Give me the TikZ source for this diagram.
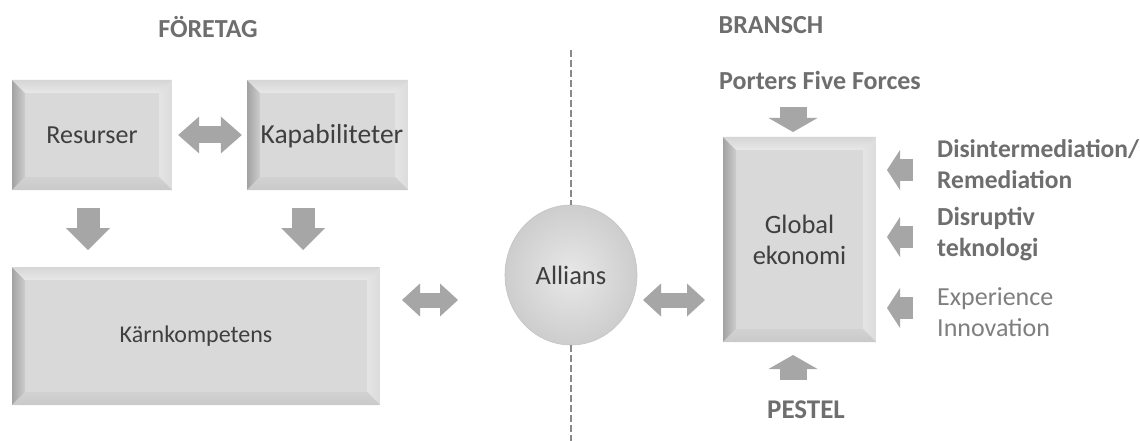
\documentclass[tikz,border=0pt]{standalone}
\usepackage{fontspec}
\setmainfont{Carlito}
\usetikzlibrary{arrows.meta,shapes.geometric}

\definecolor{boxfill}{HTML}{D9D9D9}
\definecolor{boxtext}{HTML}{3F3F3F}
\definecolor{hdrtext}{HTML}{6E6E6E}
\definecolor{softtext}{HTML}{7F7F7F}
\definecolor{arrowgray}{HTML}{A6A6A6}
\definecolor{dashgray}{HTML}{8A8A8A}
\definecolor{bevLa}{HTML}{A2A2A2}
\definecolor{bevLb}{HTML}{CDCDCD}
\definecolor{bevTa}{HTML}{D6D6D6}
\definecolor{bevTb}{HTML}{E8E8E8}
\definecolor{bevRa}{HTML}{E4E4E4}
\definecolor{bevRb}{HTML}{DCDCDC}
\definecolor{bevBa}{HTML}{D2D2D2}
\definecolor{bevBb}{HTML}{C9C9C9}
\definecolor{ballin}{HTML}{E8E8E8}
\definecolor{ballout}{HTML}{CDCDCD}
\definecolor{ballrim}{HTML}{C4C4C4}

\newcommand\lblfont{\fontsize{26}{31}\selectfont}
\newcommand\sizedfont[1]{\fontsize{#1}{31}\selectfont}

\tikzset{
  bevelbox/.style={
    draw=none, fill=boxfill, text=boxtext, font=\lblfont, align=center,
    inner sep=0pt,
    path picture={
      \coordinate (bsw) at (path picture bounding box.south west);
      \coordinate (bne) at (path picture bounding box.north east);
      \coordinate (bnw) at (path picture bounding box.north west);
      \coordinate (bse) at (path picture bounding box.south east);
      \coordinate (isw) at ([xshift=13pt,yshift=13pt]bsw);
      \coordinate (inw) at ([xshift=13pt,yshift=-13pt]bnw);
      \coordinate (ine) at ([xshift=-13pt,yshift=-13pt]bne);
      \coordinate (ise) at ([xshift=-13pt,yshift=13pt]bse);
      \shade[left color=bevLa, right color=bevLb] (bsw) -- (isw) -- (inw) -- (bnw) -- cycle;
      \shade[top color=bevTa, bottom color=bevTb] (bnw) -- (inw) -- (ine) -- (bne) -- cycle;
      \shade[left color=bevRa, right color=bevRb] (bne) -- (ine) -- (ise) -- (bse) -- cycle;
      \shade[top color=bevBa, bottom color=bevBb] (bse) -- (ise) -- (isw) -- (bsw) -- cycle;
    }
  },
  header/.style={text=hdrtext, font=\lblfont\bfseries, inner sep=0pt},
  sidelabel/.style={text=hdrtext, font=\lblfont\bfseries, align=left, anchor=west, inner sep=0pt},
  % block arrows: shaft width / head length / head width
  blockarrow/.style n args={3}{draw=arrowgray, line width=#1,
    -{Triangle[length=#2,width=#3,line width=0pt]}},
  dblblockarrow/.style n args={3}{draw=arrowgray, line width=#1,
    {Triangle[length=#2,width=#3,line width=0pt]}-{Triangle[length=#2,width=#3,line width=0pt]}},
  divider/.style={draw=dashgray, line width=2.6pt, dash pattern=on 7pt off 3pt}
}

\begin{document}
\begin{tikzpicture}[x=1pt,y=-1pt]
  \useasboundingbox (0,0) rectangle (1140,441);
  \fill[white] (0,0) rectangle (1140,441);

  % headings
  \node[header] (foretag) at (208,27) {FÖRETAG};
  \node[header] (bransch) at (771,25) {BRANSCH};

  % company side
  \node[bevelbox, minimum width=160pt, minimum height=110pt] (res) at (92,135) {Resurser};
  \node[bevelbox, minimum width=161pt, minimum height=110pt, font=\sizedfont{27.5},
        text depth=6pt, text height=22pt] (kap) at (327.5,135) {\hspace*{9pt}Kapabiliteter};
  \node[bevelbox, minimum width=368pt, minimum height=138pt, font=\sizedfont{24}] (karn) at (196,336) {Kärnkompetens};

  % alliance in the middle
  \node[ellipse, minimum width=132pt, minimum height=140pt, inner sep=0pt,
        inner color=ballin, outer color=ballout, draw=ballrim, line width=0.6pt,
        text=boxtext, font=\sizedfont{26.5}] (all) at (571,275) {Allians};

  % industry side
  \node[bevelbox, minimum width=153pt, minimum height=205pt, font=\sizedfont{26.5}] (glob) at (799.5,239.5) {Global\\ekonomi};
  \node[header] (porter) at (820,80) {Porters Five Forces};
  \node[header, font=\sizedfont{27}\bfseries] (pestel) at (806,410) {PESTEL};
  \node[sidelabel, font=\sizedfont{25.5}\bfseries] (disint) at (937,164) {Disintermediation/\\Remediation};
  \node[sidelabel] (disrupt) at (937,234) {Disruptiv\\teknologi};
  \node[sidelabel, text=softtext, font=\lblfont] (expinn) at (937,312) {Experience\\Innovation};

  % dividing line
  \coordinate (divtop) at (571,50);
  \coordinate (divbot) at (571,441);
  \draw[divider] (divtop) -- (all.north);
  \draw[divider] (all.south) -- (divbot);

  % arrows on the company side
  \draw[dblblockarrow={17pt}{21pt}{37pt}, shorten <=6pt, shorten >=5pt] (res.east) -- (kap.west);
  \coordinate (d1a) at (88,208);  \coordinate (d1b) at (88,250);
  \coordinate (d2a) at (303,208); \coordinate (d2b) at (303,250);
  \draw[blockarrow={23pt}{22pt}{44pt}] (d1a) -- (d1b);
  \draw[blockarrow={23pt}{22pt}{44pt}] (d2a) -- (d2b);

  % arrows to and from the alliance
  \coordinate (ka1) at (402,300); \coordinate (ka2) at (458,300);
  \coordinate (ag1) at (643,300); \coordinate (ag2) at (705,300);
  \draw[dblblockarrow={15pt}{18pt}{33pt}] (ka1) -- (ka2);
  \draw[dblblockarrow={15pt}{18pt}{33pt}] (ag1) -- (ag2);

  % forces acting on the global economy
  \coordinate (pf1) at (793,107); \coordinate (pf2) at (793,132);
  \coordinate (pe1) at (793,380); \coordinate (pe2) at (793,355);
  \draw[blockarrow={27pt}{14pt}{49pt}] (pf1) -- (pf2);
  \draw[blockarrow={27pt}{14pt}{49pt}] (pe1) -- (pe2);
  \coordinate (f1a) at (913,170); \coordinate (f1b) at (887,170);
  \coordinate (f2a) at (913,237); \coordinate (f2b) at (887,237);
  \coordinate (f3a) at (913,308); \coordinate (f3b) at (887,308);
  \draw[blockarrow={22pt}{13pt}{40pt}] (f1a) -- (f1b);
  \draw[blockarrow={22pt}{13pt}{40pt}] (f2a) -- (f2b);
  \draw[blockarrow={22pt}{13pt}{40pt}] (f3a) -- (f3b);
\end{tikzpicture}
\end{document}
